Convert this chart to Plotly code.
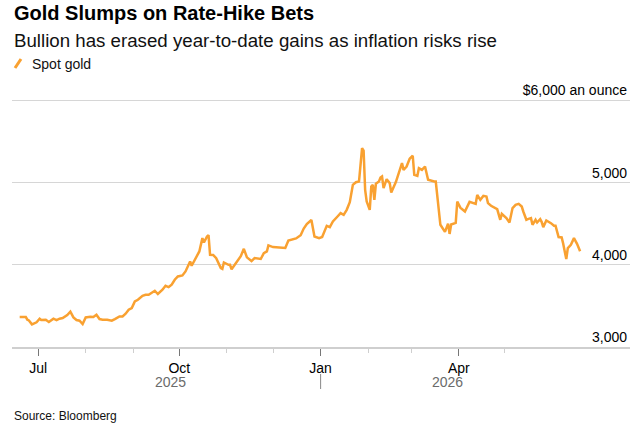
import plotly.graph_objects as go

dates = [
    "2025-06-19", "2025-06-23", "2025-06-24", "2025-06-25", "2025-06-27", "2025-06-30",
    "2025-07-02", "2025-07-03", "2025-07-06", "2025-07-08", "2025-07-11", "2025-07-13",
    "2025-07-15", "2025-07-17", "2025-07-20", "2025-07-22", "2025-07-24", "2025-07-26",
    "2025-07-28", "2025-07-30", "2025-08-01", "2025-08-04", "2025-08-06", "2025-08-08",
    "2025-08-10", "2025-08-12", "2025-08-15", "2025-08-18", "2025-08-20", "2025-08-23",
    "2025-08-25", "2025-08-27", "2025-08-29", "2025-08-31", "2025-09-02", "2025-09-04",
    "2025-09-07", "2025-09-09", "2025-09-11", "2025-09-13", "2025-09-15", "2025-09-17",
    "2025-09-20", "2025-09-22", "2025-09-24", "2025-09-26", "2025-09-28", "2025-09-30",
    "2025-10-03", "2025-10-05", "2025-10-07", "2025-10-08", "2025-10-09", "2025-10-11",
    "2025-10-13", "2025-10-14", "2025-10-16", "2025-10-17", "2025-10-19", "2025-10-20",
    "2025-10-21", "2025-10-23", "2025-10-25", "2025-10-28", "2025-10-29", "2025-10-30",
    "2025-11-02", "2025-11-03", "2025-11-04", "2025-11-06", "2025-11-10", "2025-11-12",
    "2025-11-14", "2025-11-17", "2025-11-19", "2025-11-23", "2025-11-25", "2025-11-27",
    "2025-11-28", "2025-12-01", "2025-12-06", "2025-12-09", "2025-12-11", "2025-12-14",
    "2025-12-16", "2025-12-19", "2025-12-21", "2025-12-23", "2025-12-26", "2025-12-28",
    "2025-12-31", "2026-01-02", "2026-01-05", "2026-01-07", "2026-01-09", "2026-01-12",
    "2026-01-14", "2026-01-16", "2026-01-18", "2026-01-20", "2026-01-22", "2026-01-24",
    "2026-01-26", "2026-01-28", "2026-01-29", "2026-01-30", "2026-01-31", "2026-02-02",
    "2026-02-03", "2026-02-04", "2026-02-05", "2026-02-06", "2026-02-08", "2026-02-09",
    "2026-02-10", "2026-02-11", "2026-02-13", "2026-02-15", "2026-02-16", "2026-02-19",
    "2026-02-21", "2026-02-23", "2026-02-24", "2026-02-26", "2026-02-28", "2026-03-02",
    "2026-03-03", "2026-03-05", "2026-03-06", "2026-03-08", "2026-03-10", "2026-03-12",
    "2026-03-16", "2026-03-17", "2026-03-20", "2026-03-22", "2026-03-23", "2026-03-25",
    "2026-03-26", "2026-03-27", "2026-03-30", "2026-03-31", "2026-04-02", "2026-04-05",
    "2026-04-08", "2026-04-12", "2026-04-13", "2026-04-15", "2026-04-17", "2026-04-19",
    "2026-04-20", "2026-04-22", "2026-04-24", "2026-04-26", "2026-04-28", "2026-04-29",
    "2026-05-02", "2026-05-04", "2026-05-06", "2026-05-08", "2026-05-10", "2026-05-12",
    "2026-05-13", "2026-05-15", "2026-05-16", "2026-05-18", "2026-05-19", "2026-05-21",
    "2026-05-22", "2026-05-24", "2026-05-25", "2026-05-26", "2026-05-28", "2026-05-31",
    "2026-06-02", "2026-06-03", "2026-06-05", "2026-06-07", "2026-06-08", "2026-06-10",
    "2026-06-11", "2026-06-13", "2026-06-15", "2026-06-17", "2026-06-19",
]

spot_gold = [
    3364, 3364, 3332, 3323, 3275, 3300,
    3344, 3328, 3332, 3304, 3344, 3328,
    3344, 3352, 3389, 3429, 3360, 3328,
    3320, 3279, 3360, 3368, 3364, 3392,
    3340, 3332, 3332, 3320, 3340, 3372,
    3372, 3405, 3453, 3474, 3554, 3575,
    3623, 3635, 3635, 3656, 3684, 3644,
    3696, 3745, 3729, 3757, 3818, 3858,
    3870, 3919, 3988, 4040, 3988, 4061,
    4134, 4162, 4324, 4270, 4344, 4360,
    4121, 4120, 4081, 3960, 3950, 4028,
    4000, 4000, 3945, 3995, 4105, 4194,
    4090, 4045, 4081, 4070, 4140, 4162,
    4235, 4215, 4203, 4205, 4295, 4310,
    4320, 4360, 4440, 4495, 4545, 4344,
    4324, 4337, 4474, 4458, 4526, 4587,
    4628, 4607, 4668, 4760, 4972, 5004,
    5012, 5418, 5389, 4911, 4769, 4668,
    4951, 4970, 4790, 4985, 5012, 5060,
    5073, 4932, 5041, 4993, 4878, 5005,
    5125, 5236, 5154, 5195, 5290, 5326,
    5093, 5080, 5175, 5154, 5195, 5033,
    5012, 5012, 4486, 4420, 4400, 4500,
    4375, 4490, 4510, 4769, 4695, 4648,
    4765, 4741, 4850, 4790, 4838, 4830,
    4750, 4717, 4701, 4677, 4547, 4620,
    4567, 4514, 4689, 4729, 4741, 4708,
    4648, 4547, 4555, 4567, 4486, 4547,
    4514, 4555, 4519, 4458, 4538, 4506,
    4474, 4474, 4337, 4332, 4255, 4069,
    4203, 4243, 4324, 4255, 4165,
]

major_tick_dates = ["2025-07-01", "2025-10-01", "2026-01-01", "2026-04-01"]
major_tick_labels = ["Jul", "Oct", "Jan", "Apr"]
minor_tick_dates = ["2025-08-01", "2025-09-01", "2025-11-01", "2025-12-01",
                    "2026-02-01", "2026-03-01", "2026-05-01", "2026-06-01"]
y_ticks = [3000, 4000, 5000, 6000]
y_tick_labels = ["3,000", "4,000", "5,000", "$6,000 an ounce"]
year_labels = ["2025", "2026"]

FONT = "Liberation Sans, Arial, sans-serif"
ORANGE = "#F9A131"
W, H = 642, 426
ML, MR, MT, MB = 12, 12, 78, 79
PW = W - ML - MR
PH = H - MT - MB
Y_MIN = 3000
# 3,000 sits at pixel 347 and 6,000 at pixel 100.3; extend the top so the
# "$6,000 an ounce" label (drawn above its gridline) stays inside the plot.
Y_MAX = Y_MIN + 3000 * PH / (H - MB - 100.3)


def px(xp):
    return (xp - ML) / PW


def py(yp):
    return (H - MB - yp) / PH


fig = go.Figure()
fig.add_trace(go.Scatter(
    x=dates, y=spot_gold, mode="lines", name="Spot gold",
    line=dict(color=ORANGE, width=2.5), showlegend=False, hoverinfo="x+y",
))

fig.update_layout(
    width=W, height=H,
    margin=dict(l=ML, r=MR, t=MT, b=MB, pad=0),
    paper_bgcolor="white", plot_bgcolor="white",
    font=dict(family=FONT, color="#000000", size=14),
    xaxis=dict(
        type="date",
        range=["2025-06-14", "2026-07-21 12:00"],
        tickmode="array", tickvals=major_tick_dates, ticktext=major_tick_labels,
        ticks="outside", ticklen=7, tickcolor="#777777", tickwidth=1,
        tickfont=dict(size=14, color="#000000"),
        showgrid=False, zeroline=False,
        showline=True, linecolor="#cfcfcf", linewidth=2,
        minor=dict(tickmode="array", tickvals=minor_tick_dates, ticks="outside",
                   ticklen=4, tickcolor="#cfcfcf", tickwidth=1, showgrid=False),
    ),
    yaxis=dict(
        range=[Y_MIN, Y_MAX], side="right",
        tickmode="array", tickvals=y_ticks, ticktext=y_tick_labels,
        ticklabelposition="inside top", ticks="",
        tickfont=dict(size=14, color="#000000"),
        showgrid=True, gridcolor="#d6d6d6", gridwidth=1,
        zeroline=False, showline=False,
    ),
)

annotations = [
    dict(text="<b>Gold Slumps on Rate-Hike Bets</b>", x=px(12), y=py(13),
         font=dict(size=20, color="#000000")),
    dict(text="Bullion has erased year-to-date gains as inflation risks rise",
         x=px(12), y=py(40), font=dict(size=18.7, color="#111111")),
    dict(text="Spot gold", x=px(30), y=py(64), font=dict(size=14, color="#111111")),
    dict(text="Source: Bloomberg", x=px(12), y=py(416), font=dict(size=12, color="#111111")),
]
for a in annotations:
    a.update(xref="paper", yref="paper", xanchor="left", yanchor="middle",
             showarrow=False)

annotations.append(dict(text=year_labels[0], x=px(170), y=py(382), xref="paper", yref="paper",
                        xanchor="center", yanchor="middle", showarrow=False,
                        font=dict(size=14, color="#6b6b6b")))
annotations.append(dict(text=year_labels[1], x=px(448), y=py(382), xref="paper", yref="paper",
                        xanchor="center", yanchor="middle", showarrow=False,
                        font=dict(size=14, color="#6b6b6b")))
fig.update_layout(annotations=annotations)

fig.add_shape(type="line", xref="x", yref="paper", x0="2026-01-01", x1="2026-01-01",
              y0=py(374), y1=py(389), line=dict(color="#888888", width=1))
fig.add_shape(type="line", xref="paper", yref="paper", x0=px(15), x1=px(21),
              y0=py(68), y1=py(59), line=dict(color=ORANGE, width=3))

fig.write_html("out.html")
